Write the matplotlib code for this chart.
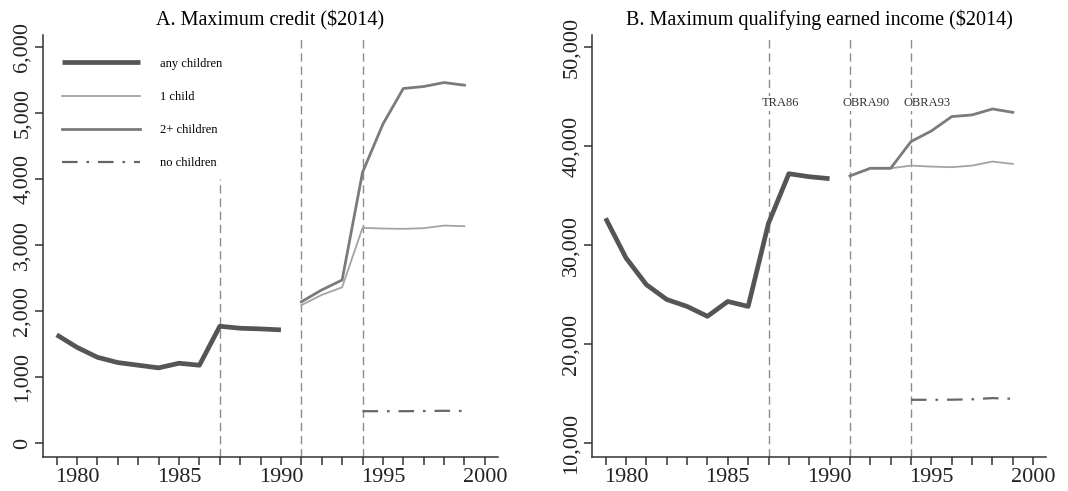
import matplotlib
matplotlib.use("Agg")
import matplotlib.pyplot as plt

plt.rcParams['font.family'] = ['Liberation Serif', 'DejaVu Serif']

# years
years_pre = list(range(1979, 1991))
years_post = list(range(1991, 2000))
years_nokid = list(range(1994, 2000))

# Panel A: maximum credit ($2014)
credit_any = [1640, 1450, 1300, 1220, 1180, 1140, 1210, 1180, 1770, 1740, 1730, 1715]
credit_one = [2090, 2245, 2360, 3260, 3250, 3245, 3255, 3295, 3285]
credit_two = [2140, 2320, 2470, 4100, 4830, 5370, 5400, 5460, 5420]
credit_none = [484, 484, 484, 486, 490, 487]

# Panel B: maximum qualifying earned income ($2014)
inc_any = [32700, 28700, 26000, 24500, 23800, 22800, 24300, 23800, 32200, 37200, 36900, 36700]
inc_one = [36980, 37750, 37750, 38020, 37920, 37860, 38020, 38430, 38190]
inc_two = [36980, 37750, 37750, 40450, 41520, 42970, 43140, 43740, 43400]
inc_none = [14370, 14370, 14380, 14420, 14540, 14470]

reforms = [1987, 1991, 1994]
reform_labels = ["TRA86", "OBRA90", "OBRA93"]

c_any = "#555555"
c_one = "#a3a3a3"
c_two = "#7b7b7b"
c_none = "#666666"
c_vline = "#8c8c8c"
c_axis = "#333333"

fig = plt.figure(figsize=(10.68, 4.91), dpi=100)
ax_a = fig.add_axes([0.0403, 0.0692, 0.4257, 0.8595])
ax_b = fig.add_axes([0.5543, 0.0692, 0.4251, 0.8595])


def style(ax, ylo, yhi, yticks):
    ax.set_xlim(1978.33, 2000.63)
    ax.set_ylim(ylo, yhi)
    for s in ("top", "right"):
        ax.spines[s].set_visible(False)
    for s in ("left", "bottom"):
        ax.spines[s].set_color(c_axis)
        ax.spines[s].set_linewidth(1.1)
    ax.set_xticks(range(1979, 2001))
    ax.set_xticklabels([str(y) if y % 5 == 0 else "" for y in range(1979, 2001)])
    ax.set_yticks(yticks)
    ax.set_yticklabels(["{:,}".format(v) for v in yticks], rotation=90, va="center")
    ax.tick_params(direction="out", length=6, width=1.1, color=c_axis,
                   labelsize=16, labelcolor="#222222", pad=2)


def draw(ax, any_, one, two, none):
    ax.plot(years_pre, any_, color=c_any, lw=3.4, label="any children", solid_capstyle="butt")
    ax.plot(years_post, one, color=c_one, lw=1.3, label="1 child")
    ax.plot(years_post, two, color=c_two, lw=2.0, label="2+ children")
    ax.plot(years_nokid, none, color=c_none, lw=1.6, dashes=(7, 4, 1.2, 4), label="no children")


# Panel A
style(ax_a, -210, 6180, list(range(0, 6001, 1000)))
ax_a.axvline(reforms[0], ymin=0, ymax=(4000 + 210) / (6180 + 210), color=c_vline, lw=1.0, dashes=(6, 3.5))
for yr in reforms[1:]:
    ax_a.axvline(yr, color=c_vline, lw=1.0, dashes=(6, 3.5))
draw(ax_a, credit_any, credit_one, credit_two, credit_none)
ax_a.set_title("A. Maximum credit ($2014)", fontsize=14.5, pad=7)
ax_a.legend(loc="upper left", bbox_to_anchor=(0.02, 0.97), frameon=False, fontsize=9,
            handlelength=6.2, handletextpad=1.6, labelspacing=1.7, borderpad=0.3)

# Panel B
style(ax_b, 8590, 51210, list(range(10000, 50001, 10000)))
for yr, lab in zip(reforms, reform_labels):
    ax_b.axvline(yr, color=c_vline, lw=1.0, dashes=(6, 3.5))
    ax_b.text(yr - 0.35, 44300, lab, fontsize=9, color="#333333", ha="left", va="center",
              bbox=dict(facecolor="white", edgecolor="none", pad=1.0))
draw(ax_b, inc_any, inc_one, inc_two, inc_none)
ax_b.set_title("B. Maximum qualifying earned income ($2014)", fontsize=14.5, pad=7)

fig.savefig("out.png", dpi=100)
